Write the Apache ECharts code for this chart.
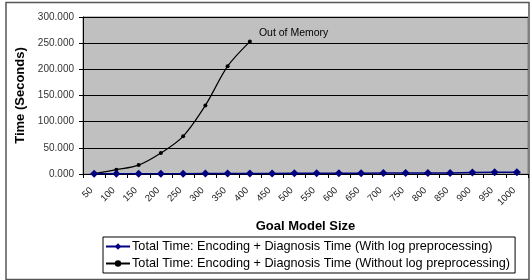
<!DOCTYPE html>
<html><head><meta charset="utf-8">
<script src="https://cdn.jsdelivr.net/npm/echarts@6/dist/echarts.min.js"></script>
<style>html,body{margin:0;padding:0;background:#fff}#c{width:530px;height:280px}</style>
</head><body><div id="c"></div>
<script>
const categories = ['50','100','150','200','250','300','350','400','450','500','550','600','650','700','750','800','850','900','950','1000'];
const withPre = [0.3,0.4,0.5,0.6,0.7,0.8,0.9,1.0,1.1,1.2,1.4,1.5,1.6,1.7,1.8,1.9,2.0,3.0,3.2,3.3];
const withoutPre = [0.6,8.2,17,40,72,131,206,253];
const seriesNames = ['Total Time: Encoding + Diagnosis Time (With log preprocessing)','Total Time: Encoding + Diagnosis Time (Without log preprocessing)'];
const annotation = 'Out of Memory';

const font = 'Liberation Sans, Arial, sans-serif';
const chart = echarts.init(document.getElementById('c'));
const blackData = withoutPre.map((v,i)=> i===withoutPre.length-1 ? {value:v,label:{show:true,formatter:annotation,position:'right',offset:[2,-8],color:'#000',fontSize:10.5,fontFamily:font}} : v);
chart.setOption({
  animation:false,
  graphic:[{type:'rect',shape:{x:6,y:2.5,width:523,height:277},style:{fill:'none',stroke:'#555',lineWidth:1.5},z:-10}],
  grid:{left:83,top:17,right:2,bottom:106,show:true,backgroundColor:'#c0c0c0',borderColor:'#808080',borderWidth:1},
  xAxis:{type:'category',data:categories,boundaryGap:true,
    name:'Goal Model Size',nameLocation:'middle',nameGap:46,
    nameTextStyle:{fontFamily:font,fontWeight:'bold',fontSize:13,color:'#000'},
    axisLine:{lineStyle:{color:'#000',width:1}},
    axisTick:{show:true,interval:0,length:4,lineStyle:{color:'#000'}},
    axisLabel:{interval:0,rotate:45,fontSize:9.5,fontFamily:font,color:'#222',margin:12,padding:[0,4,0,0]}},
  yAxis:{type:'value',min:0,max:300,interval:50,
    name:'Time (Seconds)',nameLocation:'middle',nameGap:50,
    nameTextStyle:{fontFamily:font,fontWeight:'bold',fontSize:13,color:'#000'},
    axisLine:{show:true,lineStyle:{color:'#000'}},
    axisTick:{show:true,length:4,lineStyle:{color:'#000'}},
    axisLabel:{formatter:v=>v.toFixed(3),fontSize:10,fontFamily:font,color:'#333',margin:9},
    splitLine:{show:true,lineStyle:{color:'#000',width:1}}},
  legend:{orient:'vertical',left:103,top:237,itemGap:4,itemWidth:24,itemHeight:8,
    borderColor:'#000',borderWidth:1,padding:[3,5,3,2],
    textStyle:{fontFamily:font,fontSize:12.7,color:'#000',padding:[0,0,0,-3]},data:seriesNames},
  series:[
    {name:seriesNames[0],type:'line',data:withPre,symbol:'diamond',symbolSize:8,
     itemStyle:{color:'#000080'},lineStyle:{color:'#000080',width:1.5},z:3},
    {name:seriesNames[1],type:'line',data:blackData,smooth:0.3,symbol:'circle',symbolSize:4,
     itemStyle:{color:'#000'},lineStyle:{color:'#000',width:1.2},z:2}
  ]
});
</script></body></html>
